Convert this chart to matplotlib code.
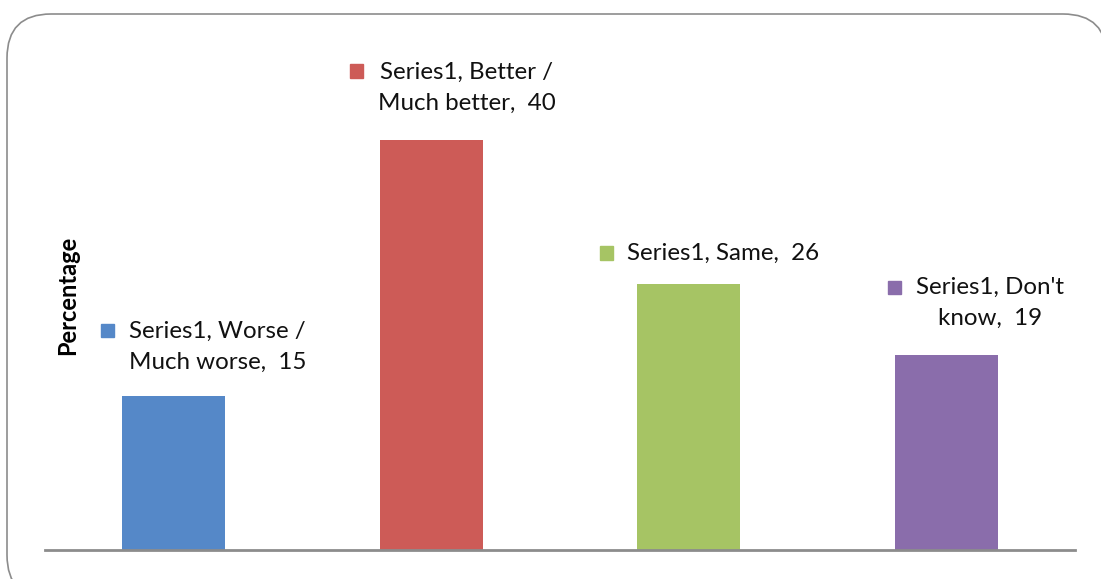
import matplotlib.pyplot as plt
from matplotlib.patches import FancyBboxPatch, Rectangle

categories = ["Worse /\nMuch worse", "Better /\nMuch better", "Same", "Don't\nknow"]
values = [15, 40, 26, 19]
colors = ["#5588C8", "#CD5B57", "#A6C464", "#8A6DAB"]

W, H = 1101, 579
fig = plt.figure(figsize=(W / 100, H / 100), dpi=100)

# rounded frame round the chart
frame = FancyBboxPatch((7 / W, -20 / H), 1100 / W, (H - 14 + 20) / H,
                       boxstyle="round,pad=0,rounding_size=0.04",
                       transform=fig.transFigure, facecolor="white",
                       edgecolor="#8c8c8c", linewidth=1.2, mutation_aspect=W / H,
                       zorder=-5)
fig.patches.append(frame)

ax = fig.add_axes([45 / W, 29 / H, 1030 / W, 459 / H])
ax.patch.set_alpha(0)
x = range(len(values))
ax.bar(x, values, width=0.4, color=colors)
ax.set_xlim(-0.5, 3.5)
ax.set_ylim(0, 44.8)
ax.set_xticks([])
ax.set_yticks([])
for s in ["top", "right", "left"]:
    ax.spines[s].set_visible(False)
ax.spines["bottom"].set_color("#8c8c8c")
ax.spines["bottom"].set_linewidth(2)

fig.text(68 / W, 1 - 295 / H, "Percentage", rotation=90, ha="center", va="center",
         fontsize=17, fontweight="bold", family="Lato")

# data labels: (square x, line-1 y, text left x, block centre y) in pixels
label_pos = [(107, 330, 129, 347), (356, 71, 378, 88),
             (606, 253, 627, 253), (894, 287, 916, 303)]
for cat, v, c, (sx, sy, tx, ty) in zip(categories, values, colors, label_pos):
    lines = cat.split("\n")
    if len(lines) == 1:
        txt = "Series1, %s,  %d" % (lines[0], v)
    else:
        txt = "Series1, %s\n%s,  %d" % (lines[0], lines[1], v)
    fig.text(tx / W, 1 - ty / H, txt, ha="left", va="center", multialignment="center",
             fontsize=17.4, family="Lato", linespacing=1.62, color="#111111", zorder=3)
    fig.patches.append(Rectangle(((sx - 6.5) / W, 1 - (sy + 6.5) / H), 13 / W, 13 / H,
                                 transform=fig.transFigure, color=c, zorder=3))

fig.savefig("out.png", dpi=100)
